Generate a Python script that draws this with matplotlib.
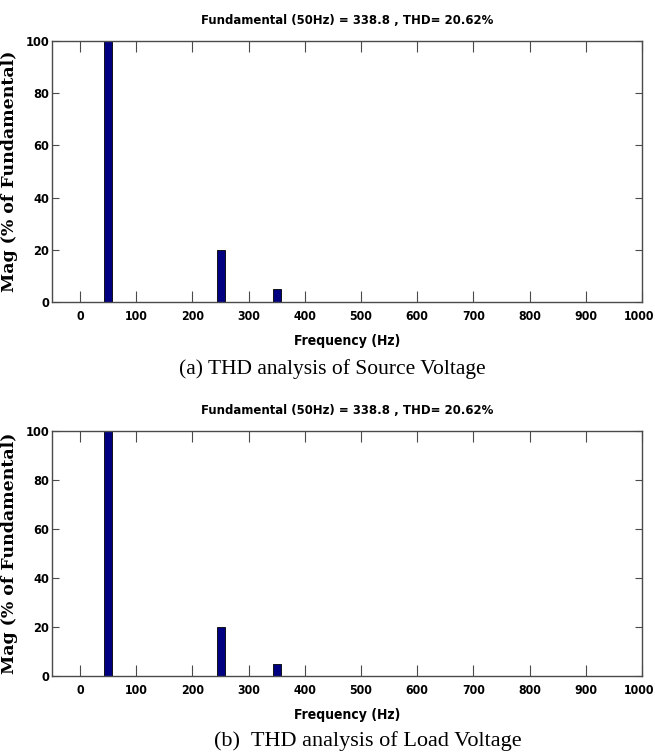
import matplotlib
matplotlib.use("Agg")
import matplotlib.pyplot as plt
from matplotlib import font_manager
from matplotlib.font_manager import FontProperties
from matplotlib.transforms import ScaledTranslation
import os

# ---- data ----
freqs = [50, 250, 350]
mags_source = [100, 20, 5]
mags_load = [100, 20, 5]
xticks = [0, 100, 200, 300, 400, 500, 600, 700, 800, 900, 1000]
yticks = [0, 20, 40, 60, 80, 100]
title_txt = "Fundamental (50Hz) = 338.8 , THD= 20.62%"
xlabel_txt = "Frequency (Hz)"
ylabel_txt = "Mag (% of Fundamental)"
caption_a = "(a) THD analysis of Source Voltage"
caption_b = "(b)  THD analysis of Load Voltage"

# find a condensed / narrow bold font file
cand = None
files = font_manager.findSystemFonts() + [f.fname for f in font_manager.fontManager.ttflist]
prefs = ["liberationsansnarrow-bold.", "dejavusanscondensed-bold.", "robotocondensed-bold",
         "opensans_condensed-bold", "opensanscondensed-bold", "notosans-condensedbold",
         "notosanscondensed-bold", "lato-bold", "roboto-bold."]
low = {os.path.basename(f).lower(): f for f in files}
for p in prefs:
    hits = [v for k, v in low.items() if k.startswith(p) or p in k]
    if hits:
        cand = hits[0]
        break

def nfont(size):
    if cand:
        return FontProperties(fname=cand, size=size)
    return FontProperties(family="Liberation Sans", weight="bold", size=size)

W, H = 655, 753
fig = plt.figure(figsize=(W / 100, H / 100), dpi=100)

def px(l, t, r, b):
    return [l / W, 1 - b / H, (r - l) / W, (b - t) / H]

spine_c = "#4a4a4a"

def panel(rect, mags):
    ax = fig.add_axes(rect)
    ax.bar(freqs, mags, width=14, color="#000080", edgecolor="black", linewidth=0.6)
    ax.set_xlim(-50, 1000)
    ax.set_ylim(0, 100)
    ax.set_xticks(xticks)
    ax.set_yticks(yticks)
    ax.tick_params(axis="x", direction="in", length=8, width=0.8, color=spine_c, top=True, pad=6)
    ax.tick_params(axis="y", direction="in", length=5, width=0.8, color=spine_c, right=True, pad=2)
    ax.set_xticklabels([str(v) for v in xticks], fontproperties=nfont(8.8))
    ax.set_yticklabels([str(v) for v in yticks], fontproperties=nfont(9.2))
    last = ax.get_xticklabels()[-1]
    last.set_transform(last.get_transform() + ScaledTranslation(-3 / 100, 0, fig.dpi_scale_trans))
    for s in ax.spines.values():
        s.set_color(spine_c)
        s.set_linewidth(1.0)
    ax.set_xlabel(xlabel_txt, fontproperties=nfont(10), labelpad=8)
    ax.set_ylabel(ylabel_txt, family="DejaVu Serif", fontweight="bold", fontsize=12.5)
    ax.yaxis.set_label_coords((18 - 52) / 590, 0.5)
    ax.set_title(title_txt, fontproperties=nfont(9.4), pad=12)
    return ax

ax1 = panel(px(52, 41, 642, 302), mags_source)
ax2 = panel(px(52, 431, 642, 676), mags_load)

fig.text(332 / W, 1 - 369 / H, caption_a, family="Liberation Serif", fontsize=15.5,
         ha="center", va="center")
fig.text(368 / W, 1 - 741 / H, caption_b, family="Liberation Serif", fontsize=16,
         ha="center", va="center")

fig.savefig("out.png", dpi=100)
